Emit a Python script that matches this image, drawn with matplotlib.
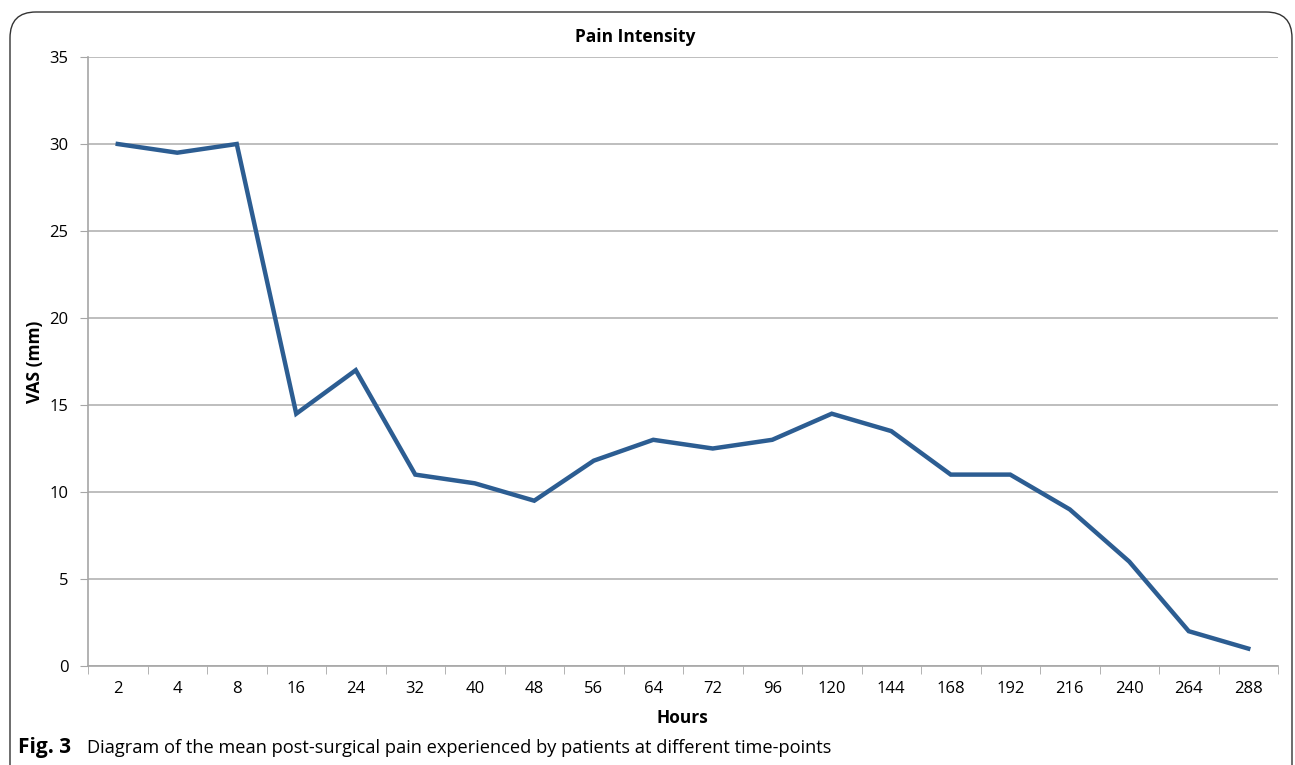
import matplotlib
matplotlib.use("Agg")
import matplotlib.pyplot as plt
from matplotlib.patches import FancyBboxPatch
import numpy as np

plt.rcParams['font.family'] = ['Open Sans', 'DejaVu Sans']

hours = ["2", "4", "8", "16", "24", "32", "40", "48", "56", "64",
         "72", "96", "120", "144", "168", "192", "216", "240", "264", "288"]
vas = [30, 29.5, 30, 14.5, 17, 11, 10.5, 9.5, 11.8, 13,
       12.5, 13, 14.5, 13.5, 11, 11, 9, 6, 2, 1]
yticks = [0, 5, 10, 15, 20, 25, 30, 35]

fig = plt.figure(figsize=(12.95, 7.65), dpi=100)
ax = fig.add_axes([88/1295, 1-666/765, (1278-88)/1295, (666-57)/765])

x = np.arange(len(hours))
ax.plot(x, vas, color='#2C5D92', lw=3.2, solid_joinstyle='miter')

ax.set_xlim(-0.5, len(hours)-0.5)
ax.set_ylim(0, 35)
ax.set_yticks(yticks)
ax.set_xticks(x)
ax.set_xticklabels(hours)
ax.set_xticks(np.arange(-0.5, len(hours)+0.5, 1), minor=True)
ax.tick_params(axis='x', which='major', length=0, pad=11, labelsize=12)
ax.tick_params(axis='x', which='minor', length=6, color='#A6A6A6', direction='out')
ax.tick_params(axis='y', length=6, color='#A6A6A6', labelsize=12, pad=8)
ax.yaxis.grid(True, color='#B3B3B3', lw=1.2)
ax.set_axisbelow(True)
for s in ['top', 'right']:
    ax.spines[s].set_visible(False)
for s in ['left', 'bottom']:
    ax.spines[s].set_color('#A6A6A6')
    ax.spines[s].set_linewidth(1.2)

fig.text(635/1295, 1-37/765, "Pain Intensity", ha='center', va='center',
         fontsize=12.5, fontweight='bold')
fig.text(35/1295, 1-362/765, "VAS (mm)", ha='center', va='center',
         rotation=90, fontsize=12.5, fontweight='bold')
fig.text(682/1295, 1-718/765, "Hours", ha='center', va='center',
         fontsize=12.5, fontweight='bold')
fig.text(18/1295, 1-748/765, "Fig. 3", ha='left', va='center', fontsize=15,
         fontweight='bold')
fig.text(87/1295, 1-748/765,
         "Diagram of the mean post-surgical pain experienced by patients at different time-points",
         ha='left', va='center', fontsize=13.15)

top = 1 - 12/765
border = FancyBboxPatch((10/1295, -0.05), (1292-10)/1295, top + 0.05,
                        boxstyle="round,pad=0,rounding_size=0.02",
                        transform=fig.transFigure, fill=False,
                        edgecolor='#333333', lw=1.0, mutation_aspect=1295/765)
fig.patches.append(border)

fig.savefig("out.png", dpi=100)
